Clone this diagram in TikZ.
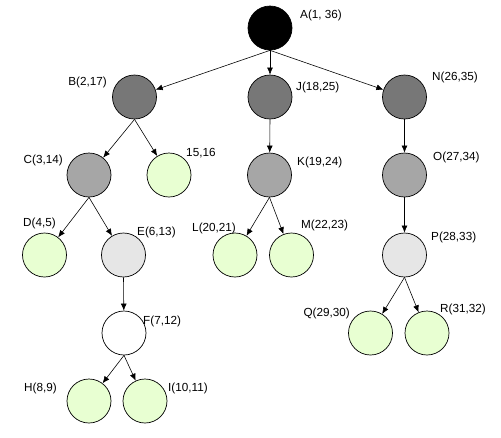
\documentclass[tikz,border=0pt]{standalone}
\usepackage{fontspec}
\setmainfont{Liberation Sans}
\usetikzlibrary{arrows.meta}
\definecolor{darkgrey}{HTML}{777777}
\definecolor{midgrey}{HTML}{A6A6A6}
\definecolor{lightgrey}{HTML}{E6E6E6}
\definecolor{leafgreen}{HTML}{E8FFD2}
\tikzset{
  vert/.style={draw, circle, line width=0.6pt, minimum size=1.32cm, inner sep=0pt},
  tag/.style={font=\fontsize{10pt}{12pt}\selectfont, inner sep=0pt},
  arc/.style={->, >={Latex[length=6pt,width=5pt]}, line width=0.5pt},
}
\begin{document}
\begin{tikzpicture}[x=0.03cm, y=-0.03cm]
  \useasboundingbox (0,0) rectangle (501,437);
  % Define the vertices
  \node[vert, fill=black] (A) at (270, 28) {};
  \node[vert, fill=darkgrey] (B) at (134.5, 97) {};
  \node[vert, fill=darkgrey] (J) at (270, 97) {};
  \node[vert, fill=darkgrey] (N) at (404.5, 97) {};
  \node[vert, fill=midgrey] (C) at (89, 175) {};
  \node[vert, fill=leafgreen] (G) at (169, 175) {};
  \node[vert, fill=midgrey] (K) at (269.5, 175) {};
  \node[vert, fill=midgrey] (O) at (404.5, 175) {};
  \node[vert, fill=leafgreen] (D) at (44.5, 255) {};
  \node[vert, fill=lightgrey] (E) at (123.5, 255) {};
  \node[vert, fill=leafgreen] (L) at (235, 255) {};
  \node[vert, fill=leafgreen] (M) at (291.5, 255) {};
  \node[vert, fill=lightgrey] (P) at (404.5, 255) {};
  \node[vert, fill=white] (F) at (124, 333) {};
  \node[vert, fill=leafgreen] (Q) at (370.5, 333) {};
  \node[vert, fill=leafgreen] (R) at (427, 333) {};
  \node[vert, fill=leafgreen] (H) at (89, 401) {};
  \node[vert, fill=leafgreen] (I) at (145, 401) {};

  % Labels
  \node[tag, anchor=west] (tA) at (300, 15) {A(1, 36)};
  \node[tag, anchor=east] (tB) at (107, 82) {B(2,17)};
  \node[tag, anchor=west] (tJ) at (296, 87) {J(18,25)};
  \node[tag, anchor=west] (tN) at (432, 77) {N(26,35)};
  \node[tag, anchor=east] (tC) at (63, 160) {C(3,14)};
  \node[tag, anchor=west] (tG) at (186, 153) {15,16};
  \node[tag, anchor=west] (tK) at (297, 162) {K(19,24)};
  \node[tag, anchor=west] (tO) at (433, 157) {O(27,34)};
  \node[tag, anchor=west] (tD) at (23, 223) {D(4,5)};
  \node[tag, anchor=west] (tE) at (137, 232) {E(6,13)};
  \node[tag, anchor=west] (tL) at (192, 228) {L(20,21)};
  \node[tag, anchor=west] (tM) at (301, 225) {M(22,23)};
  \node[tag, anchor=west] (tP) at (431, 237) {P(28,33)};
  \node[tag, anchor=west] (tF) at (143, 321) {F(7,12)};
  \node[tag, anchor=east] (tQ) at (350, 313) {Q(29,30)};
  \node[tag, anchor=west] (tR) at (440, 309) {R(31,32)};
  \node[tag, anchor=west] (tH) at (24, 388) {H(8,9)};
  \node[tag, anchor=west] (tI) at (168, 388) {I(10,11)};

  % Draw the directed arcs
  \draw[arc] (A.south) to (B);
  \draw[arc] (A.south) to (J);
  \draw[arc] (A.south) to (N);
  \draw[arc] (B.south) to (C);
  \draw[arc] (B.south) to (G);
  \draw[arc] (J.south) to (K);
  \draw[arc] (N.south) to (O);
  \draw[arc] (C.south) to (D);
  \draw[arc] (C.south) to (E);
  \draw[arc] (K.south) to (L);
  \draw[arc] (K.south) to (M);
  \draw[arc] (O.south) to (P);
  \draw[arc] (E.south) to (F);
  \draw[arc] (P.south) to (Q);
  \draw[arc] (P.south) to (R);
  \draw[arc] (F.south) to (H);
  \draw[arc] (F.south) to (I);
\end{tikzpicture}
\end{document}
